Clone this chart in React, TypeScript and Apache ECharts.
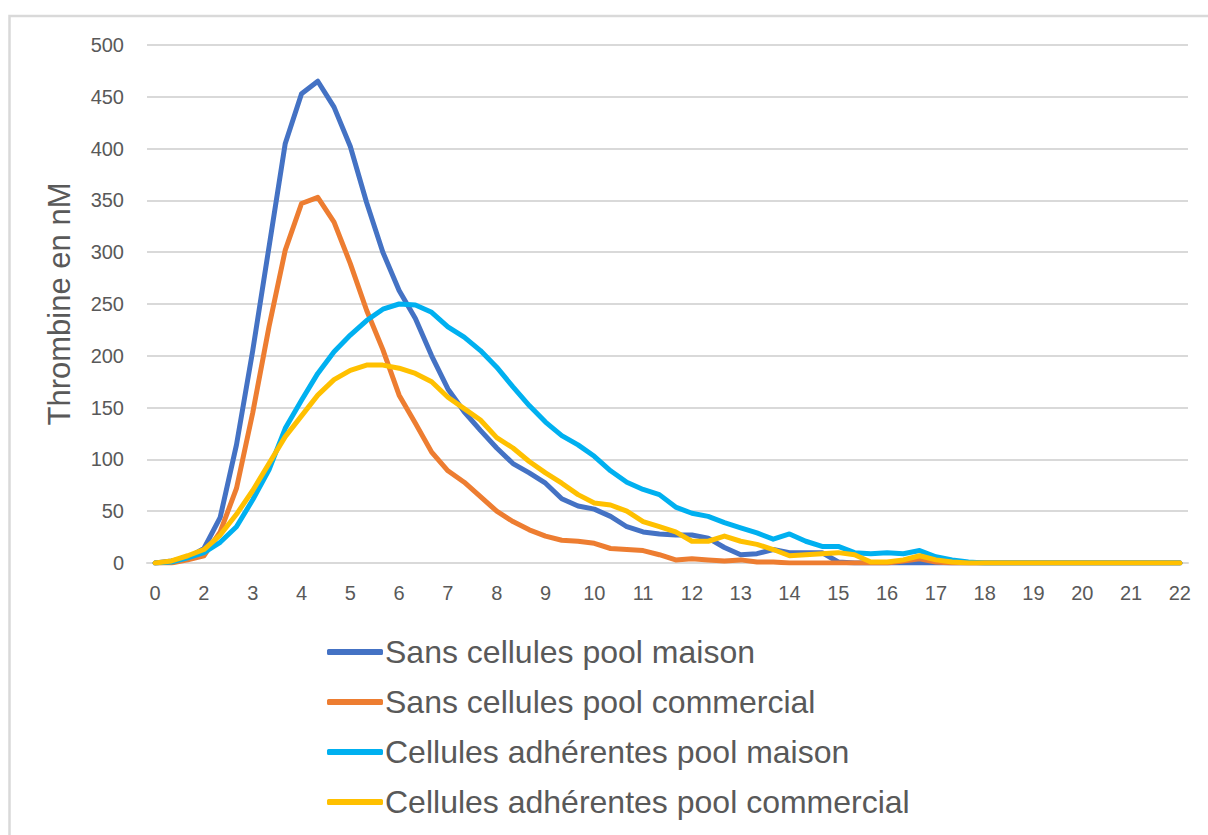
import React, { useEffect, useRef } from "react";
import * as echarts from "echarts";

const categories: string[] = [
  "0", "1.33", "1.67", "2", "2.33", "2.67", "3", "3.33", "3.67", "4", "4.33", "4.67",
  "5", "5.33", "5.67", "6", "6.33", "6.67", "7", "7.33", "7.67", "8", "8.33", "8.67",
  "9", "9.33", "9.67", "10", "10.33", "10.67", "11", "11.33", "11.67", "12", "12.33", "12.67",
  "13", "13.33", "13.67", "14", "14.33", "14.67", "15", "15.33", "15.67", "16", "16.33", "16.67",
  "17", "17.33", "17.67", "18", "18.33", "18.67", "19", "19.33", "19.67", "20", "20.33", "20.67",
  "21", "21.33", "21.67", "22",
];

const sansMaison: number[] = [
  0, 2, 5, 14, 44, 114, 205, 305, 405, 453, 465, 440,
  402, 348, 300, 263, 236, 200, 168, 146, 128, 111, 96, 87,
  77, 62, 55, 52, 45, 35, 30, 28, 27, 27, 24, 15,
  8, 9, 13, 10, 10, 10, 1, 0, 0, 0, 0, 0,
  0, 0, 0, 0, 0, 0, 0, 0, 0, 0, 0, 0,
  0, 0, 0, 0,
];

const sansCommercial: number[] = [
  0, 0, 3, 7, 30, 72, 145, 228, 302, 347, 353, 329,
  289, 244, 206, 162, 135, 107, 89, 78, 64, 50, 40, 32,
  26, 22, 21, 19, 14, 13, 12, 8, 3, 4, 3, 2,
  3, 1, 1, 0, 0, 0, 0, 0, 0, 0, 2, 4,
  1, 0, 0, 0, 0, 0, 0, 0, 0, 0, 0, 0,
  0, 0, 0, 0,
];

const adhMaison: number[] = [
  0, 1, 5, 10, 20, 35, 61, 90, 130, 157, 183, 204,
  220, 234, 245, 250, 249, 242, 228, 218, 205, 189, 170, 152,
  136, 123, 114, 103, 89, 78, 71, 66, 54, 48, 45, 39,
  34, 29, 23, 28, 21, 16, 16, 10, 9, 10, 9, 12,
  6, 3, 1, 0, 0, 0, 0, 0, 0, 0, 0, 0,
  0, 0, 0, 0,
];

const adhCommercial: number[] = [
  0, 2, 7, 13, 27, 47, 70, 96, 122, 142, 162, 177,
  186, 191, 191, 188, 183, 175, 160, 149, 138, 121, 111, 98,
  87, 77, 66, 58, 56, 50, 40, 35, 30, 21, 21, 26,
  21, 18, 13, 7, 8, 9, 10, 8, 1, 1, 3, 7,
  3, 1, 0, 0, 0, 0, 0, 0, 0, 0, 0, 0,
  0, 0, 0, 0,
];

const seriesNames = [
  "Sans cellules pool maison",
  "Sans cellules pool commercial",
  "Cellules adhérentes pool maison",
  "Cellules adhérentes pool commercial",
];
const seriesColors = ["#4472C4", "#ED7D31", "#00B0F0", "#FFC000"];
const seriesData = [sansMaison, sansCommercial, adhMaison, adhCommercial];

const FONT = "'Liberation Sans', Arial, sans-serif";
const TEXT = "#595959";
const GRID = "#D9D9D9";

export default function App() {
  const ref = useRef<HTMLDivElement>(null);

  useEffect(() => {
    if (!ref.current) return;
    const chart = echarts.init(ref.current, null, { renderer: "svg" });
    chart.setOption({
      animation: false,
      backgroundColor: "#ffffff",
      textStyle: { fontFamily: FONT, color: TEXT },
      graphic: [
        {
          type: "rect",
          shape: { x: 9.5, y: 16, width: 1400, height: 1000 },
          style: { fill: "none", stroke: GRID, lineWidth: 2.5 },
          silent: true,
          z: -10,
        },
      ],
      grid: { left: 147, right: 20, top: 45, bottom: 272, containLabel: false },
      legend: {
        orient: "vertical",
        left: 322,
        top: 630,
        icon: "roundRect",
        itemWidth: 56,
        itemHeight: 6,
        itemGap: 16,
        textStyle: { fontFamily: FONT, fontSize: 32, color: TEXT, lineHeight: 34, padding: [0, 0, 0, -3] },
        data: seriesNames,
      },
      xAxis: {
        type: "category",
        data: categories,
        boundaryGap: true,
        axisLine: { show: true, lineStyle: { color: GRID, width: 2 } },
        axisTick: { show: false },
        axisLabel: {
          interval: 2,
          margin: 20,
          fontSize: 20,
          color: TEXT,
          fontFamily: FONT,
        },
        splitLine: { show: false },
      },
      yAxis: {
        type: "value",
        min: 0,
        max: 500,
        interval: 50,
        name: "Thrombine en nM",
        nameLocation: "middle",
        nameGap: 72,
        nameTextStyle: { fontSize: 31, color: TEXT, fontFamily: FONT },
        axisLine: { show: false },
        axisTick: { show: false },
        axisLabel: { margin: 23, fontSize: 20, color: TEXT, fontFamily: FONT },
        splitLine: { show: true, lineStyle: { color: GRID, width: 2 } },
      },
      series: seriesNames.map((name, i) => ({
        name,
        type: "line",
        data: seriesData[i],
        symbol: "none",
        smooth: false,
        lineStyle: { color: seriesColors[i], width: 5, join: "round", cap: "round" },
        itemStyle: { color: seriesColors[i] },
      })),
    });
    return () => chart.dispose();
  }, []);

  return (
    <div
      ref={ref}
      style={{ position: "absolute", left: 0, top: 0, width: 1208, height: 835 }}
    />
  );
}
